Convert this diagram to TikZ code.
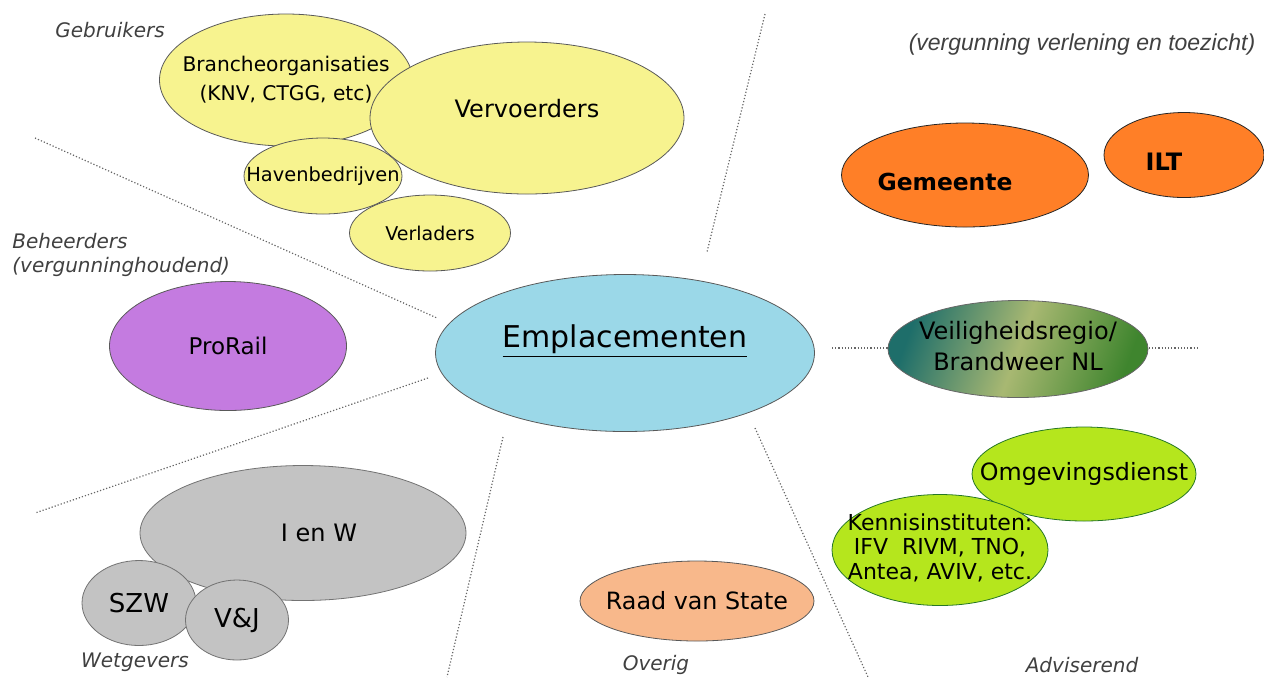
\documentclass[tikz,border=0pt]{standalone}
\usepackage{fontspec}
\setmainfont{DejaVu Sans}
\newfontfamily\arialfont{Liberation Sans}
\usetikzlibrary{shapes.geometric}
\definecolor{geel}{HTML}{F7F38F}
\definecolor{paars}{HTML}{C47BE0}
\definecolor{lichtblauw}{HTML}{9BD8E8}
\definecolor{oranje}{HTML}{FF7F27}
\definecolor{limoen}{HTML}{B5E61D}
\definecolor{perzik}{HTML}{F8B88B}
\definecolor{grijs}{HTML}{C3C3C3}
\definecolor{vrteal}{HTML}{1E6E6A}
\definecolor{vrolijf}{HTML}{A8B872}
\definecolor{vrgroen}{HTML}{3F852E}
% tekst mag breder zijn dan de ellips
\newcommand\midden[1]{\makebox[0pt]{#1}}
\newcommand\regels[1]{\makebox[0pt]{\begin{tabular}{@{}c@{}}#1\end{tabular}}}
\begin{document}
\begin{tikzpicture}[x=0.5pt, y=-0.5pt,
        bubble/.style = {ellipse, draw=black!65, inner sep=0pt, align=center},
        sz/.style 2 args = {minimum width=#1*0.5pt, minimum height=#2*0.5pt},
        gebruiker/.style = {bubble, fill=geel},
        advies/.style = {bubble, fill=limoen, draw=black!55!green!70!gray},
        wetgever/.style = {bubble, fill=grijs, draw=black!55},
        groep/.style = {font=\itshape\fontsize{10}{12}\selectfont, text=black!75, inner sep=0pt},
        scheiding/.style = {densely dotted, black!60, line width=0.6pt}
        ]
        \useasboundingbox (0,0) rectangle (1264,677);
        % scheidingslijnen
        \draw[scheiding] (35,138) -- (437,318);
        \draw[scheiding] (428,378) -- (35,513);
        \draw[scheiding] (765,14) -- (707,252);
        \draw[scheiding] (503,437) -- (447,677);
        \draw[scheiding] (755,428) -- (868,677);
        \draw[scheiding] (832,348) -- (1198,348);
        % gebruikers
        \node[gebruiker, sz={253}{132}, font=\fontsize{10.1}{14.5}\selectfont] (branche) at (286,80) {\regels{Brancheorganisaties\\(KNV, CTGG, etc)}};
        \node[gebruiker, sz={158}{76}, font=\fontsize{9.7}{11}\selectfont] (haven) at (323,176) {\midden{Havenbedrijven}};
        \node[gebruiker, sz={314}{152}, font=\fontsize{12}{14}\selectfont, text height=9.2pt, text depth=10.1pt] (vervoerders) at (527,118) {\midden{Vervoerders}};
        \node[gebruiker, sz={161}{76}, font=\fontsize{9.5}{11}\selectfont] (verladers) at (430,233) {\midden{Verladers}};
        % midden
        \node[bubble, fill=lichtblauw, sz={379}{157}, font=\fontsize{15}{18}\selectfont, text height=11.5pt, text depth=17.5pt] (empl) at (625,353) {\midden{\underline{Emplacementen}}};
        \node[bubble, fill=paars, sz={237}{129}, font=\fontsize{11.5}{14}\selectfont] (prorail) at (228,346) {\midden{ProRail}};
        % vergunning en toezicht
        \node[bubble, fill=oranje, draw=black!85, sz={247}{104}, font=\bfseries\fontsize{11.7}{13}\selectfont, text height=15.5pt, text depth=0pt] (gemeente) at (965,175) {\midden{\hspace*{-20pt}Gemeente}};
        \node[bubble, fill=oranje, draw=black!85, sz={160}{85}, font=\bfseries\fontsize{12}{14}\selectfont, text height=15.8pt, text depth=0pt] (ilt) at (1184,155) {\midden{\hspace*{-20pt}ILT}};
        \node[bubble, draw=black!60, left color=vrteal, right color=vrgroen, middle color=vrolijf, shading angle=70, sz={260}{97}, font=\fontsize{12}{15.5}\selectfont] (veiligheid) at (1018,349) {\regels{Veiligheidsregio/\\Brandweer NL}};
        % adviserend
        \node[advies, sz={224}{94}, font=\fontsize{11.9}{14}\selectfont] (omgeving) at (1084,474) {\midden{Omgevingsdienst}};
        \node[advies, sz={216}{111}, font=\fontsize{11}{12.3}\selectfont] (kennis) at (940,550) {\regels{Kennisinstituten:\\IFV\ \ RIVM, TNO,\\Antea, AVIV, etc.}};
        \node[bubble, fill=perzik, sz={234}{80}, font=\fontsize{11.9}{14}\selectfont] (raad) at (697,601) {\midden{Raad van State}};
        % wetgevers
        \node[wetgever, sz={326}{135}, font=\fontsize{12}{14}\selectfont] (ienw) at (303,533) {\midden{\hspace*{16pt}I en W}};
        \node[wetgever, sz={114}{85}, font=\fontsize{13}{15}\selectfont] (szw) at (139,603) {\midden{SZW}};
        \node[wetgever, sz={103}{80}, font=\fontsize{13}{15}\selectfont] (venj) at (237,620) {\midden{V\&J}};
        % groepsnamen
        \node[groep, anchor=west] (gebruikers) at (55,30) {Gebruikers};
        \node[groep, anchor=west, align=left] (beheerders) at (12,255) {Beheerders\\(vergunninghoudend)};
        \node[groep] (wetgevers) at (135,662) {Wetgevers};
        \node[groep] (overig) at (656,665) {Overig};
        \node[groep] (adviserend) at (1082,665) {Adviserend};
        \node[groep, font=\arialfont\itshape\fontsize{11.5}{13}\selectfont] (vvt) at (1082,45) {(vergunning verlening en toezicht)};
\end{tikzpicture}
\end{document}
